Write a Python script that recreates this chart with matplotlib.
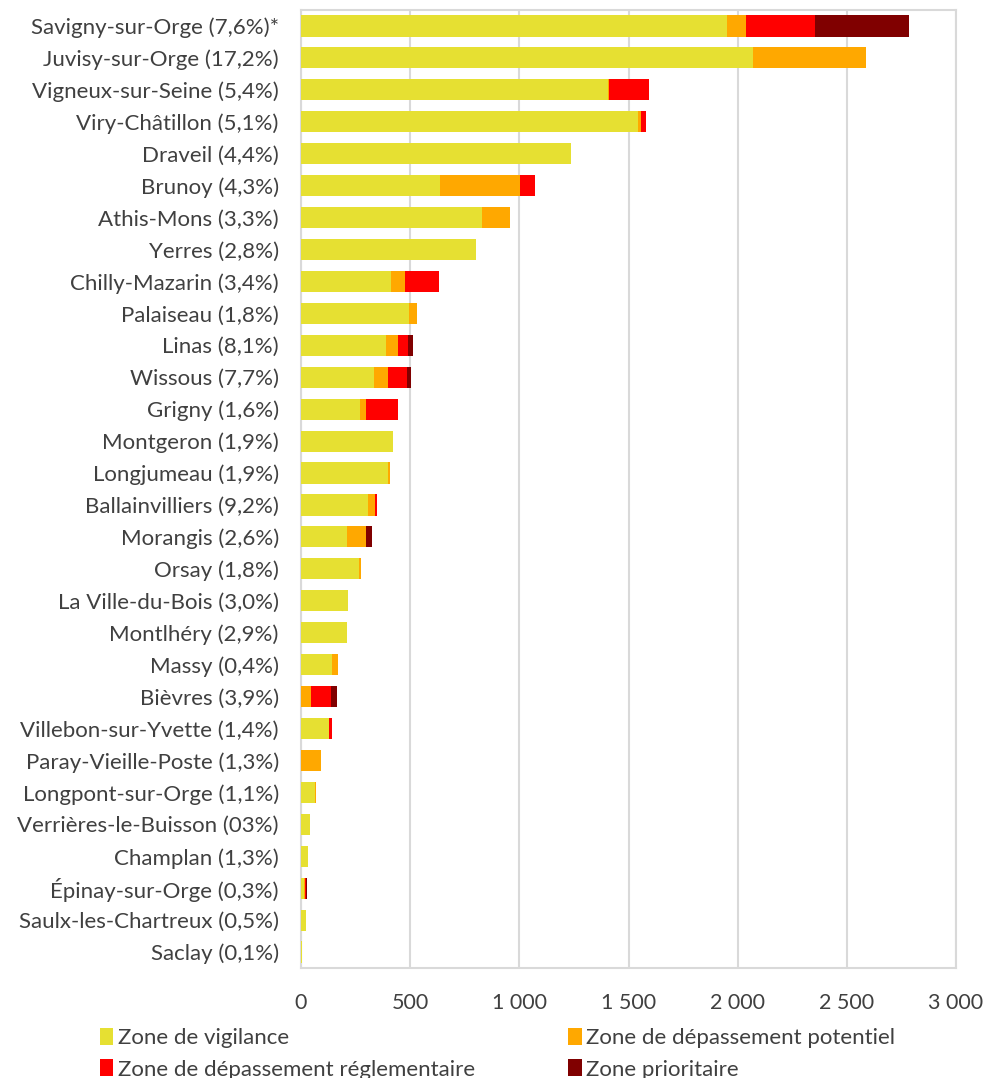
import numpy as np
import matplotlib
matplotlib.use('Agg')
import matplotlib.pyplot as plt
from matplotlib.ticker import FuncFormatter, MultipleLocator

plt.rcParams['font.family'] = ['Lato', 'DejaVu Sans']

# communes (haut -> bas)
communes = ['Savigny-sur-Orge (7,6%)*', 'Juvisy-sur-Orge (17,2%)', 'Vigneux-sur-Seine (5,4%)',
            'Viry-Châtillon (5,1%)', 'Draveil (4,4%)', 'Brunoy (4,3%)', 'Athis-Mons (3,3%)',
            'Yerres (2,8%)', 'Chilly-Mazarin (3,4%)', 'Palaiseau (1,8%)', 'Linas (8,1%)',
            'Wissous (7,7%)', 'Grigny (1,6%)', 'Montgeron (1,9%)', 'Longjumeau (1,9%)',
            'Ballainvilliers (9,2%)', 'Morangis (2,6%)', 'Orsay (1,8%)', 'La Ville-du-Bois (3,0%)',
            'Montlhéry (2,9%)', 'Massy (0,4%)', 'Bièvres (3,9%)', 'Villebon-sur-Yvette (1,4%)',
            'Paray-Vieille-Poste (1,3%)', 'Longpont-sur-Orge (1,1%)', 'Verrières-le-Buisson (03%)',
            'Champlan (1,3%)', 'Épinay-sur-Orge (0,3%)', 'Saulx-les-Chartreux (0,5%)', 'Saclay (0,1%)']

vigilance = [1953, 2068, 1407, 1544, 1236, 638, 831, 800, 412, 493, 388, 336, 271, 420, 399,
             305, 209, 264, 213, 209, 143, 0, 130, 0, 66, 41, 31, 15, 25, 5]
potentiel = [84, 519, 3, 15, 0, 366, 127, 0, 64, 39, 55, 64, 27, 0, 9,
             35, 87, 9, 0, 0, 27, 46, 0, 92, 3, 0, 3, 5, 0, 0]
reglementaire = [318, 0, 185, 20, 0, 68, 0, 0, 154, 0, 49, 86, 148, 0, 0,
                 7, 0, 0, 0, 0, 0, 92, 10, 0, 0, 0, 0, 5, 0, 0]
prioritaire = [432, 0, 0, 0, 0, 0, 0, 0, 0, 0, 20, 20, 0, 0, 0,
               0, 28, 0, 0, 0, 0, 26, 0, 0, 0, 0, 0, 3, 0, 0]

series = [('Zone de vigilance', vigilance, '#E6E032'),
          ('Zone de dépassement potentiel', potentiel, '#FFA800'),
          ('Zone de dépassement réglementaire', reglementaire, '#FF0000'),
          ('Zone prioritaire', prioritaire, '#800000')]

fig = plt.figure(figsize=(9.88, 10.78), dpi=100)
ax = fig.add_axes([301 / 988, 1 - 968 / 1078, 655 / 988, 958 / 1078])

y = np.arange(len(communes))
left = np.zeros(len(communes))
for nom, vals, col in series:
    vals = np.array(vals, dtype=float)
    ax.barh(y, vals, left=left, height=0.66, color=col, label=nom, zorder=3)
    left += vals

ax.set_ylim(len(communes) - 0.5, -0.5)
ax.set_xlim(0, 3000)
ax.set_yticks(y)
ax.set_yticklabels(communes, fontsize=16, color='#404040')
ax.xaxis.set_major_locator(MultipleLocator(500))
ax.xaxis.set_major_formatter(FuncFormatter(lambda v, p: f"{int(v):,}".replace(',', ' ')))
ax.tick_params(axis='x', labelsize=15.5, labelcolor='#404040', length=0, pad=18)
ax.tick_params(axis='y', length=0, pad=16)
ax.grid(axis='x', color='#d9d9d9', linewidth=1.5, zorder=0)
for s in ax.spines.values():
    s.set_color('#d9d9d9')
    s.set_linewidth(1.5)

# ordre du legende ligne par ligne
handles, labels = ax.get_legend_handles_labels()
ordre = [0, 2, 1, 3]
fig.legend([handles[i] for i in ordre], [labels[i] for i in ordre], ncol=2, loc='lower left',
           bbox_to_anchor=(80 / 988, -0.02), frameon=False, fontsize=16, labelcolor='#404040',
           handlelength=0.6, handleheight=0.8, handletextpad=0.2, columnspacing=4.2,
           labelspacing=0.5)

fig.savefig('out.png', dpi=100)
